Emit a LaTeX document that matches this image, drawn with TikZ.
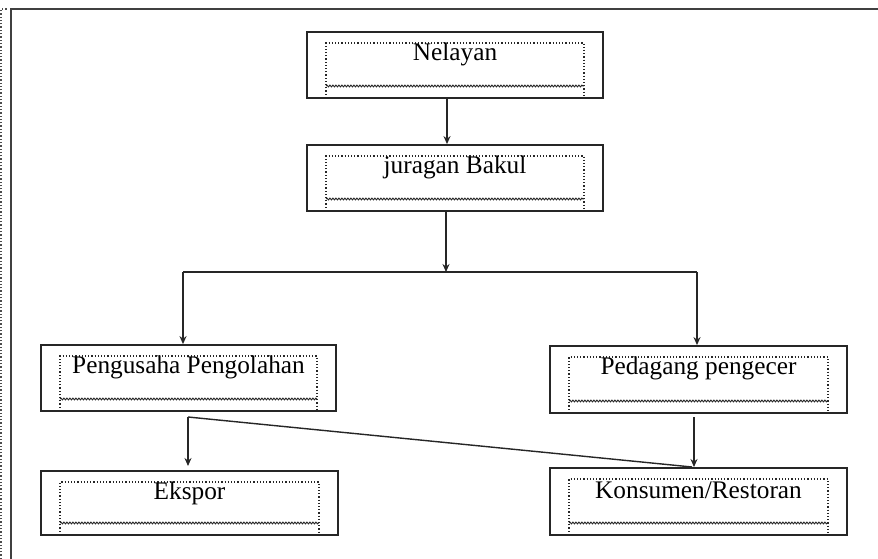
\documentclass[tikz,border=0pt]{standalone}
\usepackage{fontspec}
\setmainfont{Liberation Serif}
\usetikzlibrary{arrows.meta,decorations.pathmorphing}
\tikzset{
  outerbox/.style={draw=black!85,line width=1.8pt,inner sep=0pt,fill=white},
  innerdot/.style={draw=black!85,line width=1.2pt,dotted},
  wavy/.style={draw=black!85,line width=0.9pt,decorate,decoration={snake,amplitude=0.9pt,segment length=3pt}},
  lbl/.style={inner sep=0pt,font=\fontsize{25.3}{28}\selectfont},
  conn/.style={draw=black!85,line width=1.4pt},
  arr/.style={conn,-{Stealth[length=8pt,width=7pt]}},
  frame/.style={draw=black!75,line width=2pt},
}
% \flowbox{name}{x1}{y1}{x2}{y2}{text}
\newcommand{\flowbox}[6]{%
  \node[outerbox,minimum width=#4pt-#2pt,minimum height=#5pt-#3pt] (#1) at ({(#2+#4)/2},{(#3+#5)/2}) {};
  \draw[innerdot] (#2+19,#5) -- (#2+19,#3+11) -- (#4-19,#3+11) -- (#4-19,#5);
  \draw[wavy] (#2+19,#5-12) -- (#4-19,#5-12);
  \node[lbl] (#1-t) at ({(#2+#4)/2},#3+22) {#6};
}
\begin{document}
\begin{tikzpicture}[x=1pt,y=-1pt]
\useasboundingbox (0,0) rectangle (878,559);
% outer page frame
\draw[black!70,line width=1.3pt,dotted] (1,559) -- (1,9) -- (8,9);
\coordinate (fbl) at (11,559);
\coordinate (ftl) at (11,9);
\coordinate (ftr) at (878,9);
\draw[frame] (fbl) -- (ftl) -- (ftr);

\flowbox{nel}{307}{32}{603}{98}{Nelayan}
\flowbox{jur}{307}{145}{603}{211}{juragan Bakul}
\flowbox{pen}{41}{345}{336}{411}{Pengusaha Pengolahan}
\flowbox{eks}{41}{471}{338}{535}{Ekspor}
\flowbox{ped}{550}{346}{847}{413}{Pedagang pengecer}
\flowbox{kon}{550}{468}{847}{535}{Konsumen/Restoran}

% connectors
\coordinate (a1) at (447,98);
\coordinate (a2) at (447,145);
\draw[arr] (a1) -- (a2 |- jur.north);

\coordinate (j1) at (446,211);
\coordinate (jm) at (446,272);
\coordinate (hl) at (183,272);
\coordinate (hr) at (697,272);
\draw[arr] (j1) -- (jm);
\draw[conn] (hl) -- (hr);
\draw[arr] (hl) -- (hl |- pen.north);
\draw[arr] (hr) -- (hr |- ped.north);

\coordinate (p1) at (188,417);
\coordinate (p2) at (188,466);
\coordinate (k1) at (692,467);
\draw[arr] (p1) -- (p2);
\draw[conn] (p1) -- (k1);

\coordinate (d1) at (694,417);
\coordinate (d2) at (694,467);
\draw[arr] (d1) -- (d2);
\end{tikzpicture}
\end{document}
